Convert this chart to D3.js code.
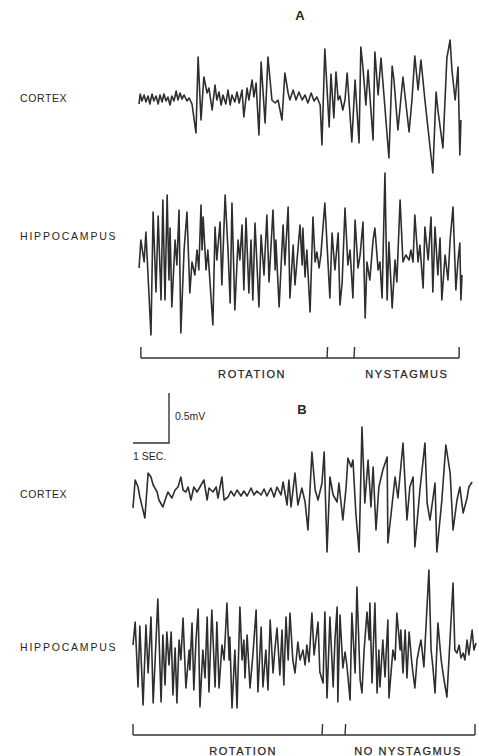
<!DOCTYPE html>
<html>
<head>
<meta charset="utf-8">
<script src="https://cdn.jsdelivr.net/npm/d3@7"></script>
<style>
  body { margin: 0; background: #fff; }
  text { font-family: "Liberation Sans", Arial, sans-serif; fill: #262626; }
</style>
</head>
<body>
<script>
// traces: [time (s), potential (mV)]
var cortexA = [[0.03,-0.06],[0.06,0.04],[0.11,-0.03],[0.17,0.03],[0.22,-0.04],[0.28,0.02],[0.33,-0.06],[0.39,0.04],[0.44,-0.03],[0.50,0.02],[0.56,-0.06],[0.61,0.03],[0.67,-0.04],[0.72,0.04],[0.78,-0.03],[0.83,0.01],[0.89,-0.07],[0.94,0.02],[1.00,-0.03],[1.06,0.07],[1.11,-0.02],[1.17,0.05],[1.22,-0.01],[1.28,0.03],[1.36,-0.03],[1.42,0.00],[1.50,-0.06],[1.61,-0.35],[1.67,0.41],[1.75,-0.22],[1.83,0.21],[1.92,0.05],[1.97,0.10],[2.06,-0.12],[2.14,0.13],[2.19,-0.02],[2.25,0.06],[2.31,-0.07],[2.36,0.03],[2.44,-0.06],[2.50,0.08],[2.56,-0.07],[2.61,0.03],[2.69,-0.04],[2.75,0.06],[2.81,-0.05],[2.89,0.08],[2.94,-0.19],[3.03,0.10],[3.08,-0.02],[3.17,0.18],[3.22,0.01],[3.28,0.15],[3.36,-0.37],[3.42,0.36],[3.53,-0.25],[3.61,0.41],[3.72,-0.02],[3.81,-0.05],[3.89,-0.02],[4.00,-0.22],[4.08,0.25],[4.17,0.05],[4.22,-0.02],[4.31,0.08],[4.39,-0.02],[4.47,0.06],[4.56,-0.02],[4.64,0.03],[4.72,-0.05],[4.81,0.05],[4.89,-0.03],[4.97,0.01],[5.06,-0.07],[5.11,-0.47],[5.19,0.49],[5.31,-0.29],[5.36,0.24],[5.44,-0.20],[5.50,0.26],[5.56,-0.02],[5.61,0.02],[5.69,-0.12],[5.75,-0.02],[5.81,0.25],[5.94,-0.44],[6.03,0.18],[6.14,-0.45],[6.19,0.51],[6.25,0.30],[6.33,-0.07],[6.39,0.28],[6.53,-0.42],[6.58,0.46],[6.67,0.03],[6.75,0.40],[6.97,-0.60],[7.06,0.32],[7.11,0.18],[7.22,-0.32],[7.36,0.21],[7.53,-0.34],[7.61,-0.02],[7.69,0.42],[7.78,0.08],[7.86,0.38],[7.97,-0.02],[8.19,-0.75],[8.28,0.06],[8.33,-0.12],[8.47,-0.50],[8.58,0.40],[8.67,0.58],[8.72,0.28],[8.81,-0.02],[8.89,0.31],[8.94,-0.57],[8.97,-0.22]];

var hippoA = [[0.03,-0.11],[0.08,0.17],[0.17,-0.05],[0.22,0.25],[0.36,-0.78],[0.42,0.45],[0.50,-0.35],[0.56,0.41],[0.64,-0.43],[0.69,0.57],[0.75,-0.43],[0.81,0.62],[0.86,-0.23],[0.89,0.29],[0.94,-0.50],[1.03,0.17],[1.08,-0.08],[1.14,0.47],[1.19,-0.76],[1.28,0.07],[1.36,0.45],[1.44,-0.36],[1.50,-0.05],[1.58,-0.18],[1.64,0.07],[1.69,-0.13],[1.75,0.52],[1.78,0.07],[1.81,0.40],[1.89,-0.13],[1.94,0.07],[2.08,-0.68],[2.14,0.30],[2.19,-0.03],[2.28,0.35],[2.33,-0.28],[2.42,0.62],[2.50,0.07],[2.56,-0.46],[2.61,0.54],[2.69,-0.53],[2.78,0.17],[2.83,-0.03],[2.89,0.32],[2.94,-0.33],[3.00,0.39],[3.08,-0.36],[3.14,0.17],[3.19,-0.43],[3.25,0.34],[3.36,-0.50],[3.42,0.22],[3.50,-0.18],[3.58,0.42],[3.64,-0.25],[3.75,0.47],[3.81,-0.13],[3.83,0.17],[3.92,-0.50],[4.03,0.32],[4.08,-0.08],[4.17,0.50],[4.22,-0.41],[4.31,0.12],[4.36,-0.28],[4.50,0.32],[4.56,-0.08],[4.58,0.29],[4.64,-0.20],[4.69,0.07],[4.78,-0.55],[4.86,0.40],[4.92,-0.05],[4.97,0.05],[5.03,-0.11],[5.08,0.02],[5.19,0.54],[5.33,-0.41],[5.39,0.24],[5.47,-0.13],[5.56,0.24],[5.61,-0.48],[5.67,-0.26],[5.75,0.49],[5.83,-0.08],[5.89,0.07],[5.97,-0.41],[6.03,0.37],[6.11,-0.11],[6.17,0.02],[6.25,0.35],[6.31,-0.61],[6.36,-0.05],[6.44,-0.23],[6.53,0.17],[6.58,0.29],[6.67,-0.13],[6.72,-0.05],[6.78,-0.41],[6.86,0.84],[6.92,-0.43],[6.97,0.15],[7.06,-0.51],[7.14,-0.03],[7.19,-0.25],[7.28,0.57],[7.36,-0.05],[7.44,0.02],[7.53,-0.03],[7.58,0.07],[7.64,-0.05],[7.69,0.42],[7.78,-0.05],[7.83,0.12],[7.92,-0.31],[7.97,0.30],[8.06,-0.03],[8.14,0.40],[8.19,-0.35],[8.25,0.30],[8.33,-0.18],[8.39,0.19],[8.44,-0.43],[8.53,0.02],[8.61,-0.23],[8.67,0.17],[8.75,0.50],[8.83,-0.33],[8.89,-0.03],[8.94,0.14],[8.97,-0.43],[9.00,-0.18]];

var cortexB = [[0.00,-0.16],[0.06,0.12],[0.14,0.05],[0.19,-0.05],[0.33,-0.26],[0.42,0.19],[0.50,0.15],[0.56,0.07],[0.67,0.00],[0.72,-0.08],[0.83,-0.15],[0.92,-0.05],[0.97,0.00],[1.08,-0.06],[1.17,0.02],[1.25,0.05],[1.33,0.15],[1.39,0.02],[1.47,0.00],[1.53,0.05],[1.61,-0.08],[1.69,0.05],[1.78,0.00],[1.89,0.07],[1.97,0.12],[2.06,-0.08],[2.11,0.04],[2.22,0.00],[2.31,0.05],[2.36,-0.06],[2.47,0.15],[2.53,-0.08],[2.64,-0.05],[2.72,0.01],[2.81,-0.04],[2.89,0.02],[3.00,-0.04],[3.08,0.01],[3.17,-0.04],[3.28,0.04],[3.36,-0.03],[3.44,0.01],[3.56,-0.03],[3.64,0.03],[3.72,-0.04],[3.83,0.04],[3.92,-0.05],[4.00,0.05],[4.11,-0.03],[4.17,0.10],[4.28,-0.13],[4.33,0.12],[4.39,-0.15],[4.50,0.19],[4.58,-0.13],[4.69,0.04],[4.78,-0.10],[4.86,-0.38],[4.97,0.40],[5.06,0.02],[5.14,-0.08],[5.25,0.09],[5.31,0.40],[5.39,-0.60],[5.47,0.15],[5.56,-0.03],[5.67,-0.10],[5.72,0.09],[5.83,-0.28],[5.92,0.05],[5.97,0.34],[6.06,0.25],[6.11,0.32],[6.19,-0.21],[6.28,-0.60],[6.36,0.65],[6.44,-0.11],[6.53,0.32],[6.61,-0.15],[6.67,0.25],[6.75,-0.38],[6.83,0.05],[6.94,0.22],[7.06,0.35],[7.08,-0.51],[7.19,-0.15],[7.28,0.15],[7.36,-0.06],[7.50,0.49],[7.61,-0.28],[7.69,0.05],[7.78,0.15],[7.83,-0.55],[7.97,0.02],[8.11,0.49],[8.17,-0.11],[8.25,-0.28],[8.39,0.09],[8.44,-0.60],[8.58,-0.08],[8.69,0.47],[8.81,0.19],[8.89,-0.38],[9.00,-0.08],[9.08,0.05],[9.17,-0.21],[9.28,-0.06],[9.33,0.05],[9.42,0.10]];

var hippoB = [[0.00,0.05],[0.06,0.28],[0.14,-0.37],[0.19,0.24],[0.28,-0.55],[0.36,0.25],[0.42,-0.23],[0.50,0.33],[0.56,-0.53],[0.64,0.10],[0.69,0.51],[0.78,-0.52],[0.83,0.15],[0.89,-0.35],[0.94,0.18],[1.00,-0.15],[1.06,0.18],[1.11,-0.45],[1.17,0.02],[1.22,-0.53],[1.28,0.10],[1.33,-0.10],[1.39,0.32],[1.47,-0.38],[1.56,0.00],[1.58,-0.20],[1.64,0.27],[1.69,-0.40],[1.75,0.10],[1.81,0.41],[1.86,-0.57],[1.94,0.00],[2.00,-0.28],[2.06,0.33],[2.11,-0.42],[2.19,0.40],[2.28,-0.37],[2.33,0.28],[2.39,-0.38],[2.47,0.05],[2.53,-0.10],[2.61,0.47],[2.67,-0.10],[2.69,0.13],[2.75,-0.58],[2.83,0.00],[2.89,-0.58],[2.97,0.43],[3.03,-0.10],[3.08,0.10],[3.11,-0.28],[3.17,0.15],[3.25,-0.38],[3.33,-0.05],[3.42,0.40],[3.47,-0.42],[3.56,0.23],[3.61,-0.37],[3.69,0.00],[3.75,-0.40],[3.81,0.30],[3.89,-0.23],[3.94,0.00],[4.00,0.22],[4.08,-0.25],[4.14,0.20],[4.19,-0.35],[4.25,0.33],[4.31,-0.10],[4.36,0.37],[4.44,-0.10],[4.50,-0.23],[4.58,0.08],[4.64,-0.10],[4.72,0.00],[4.78,-0.15],[4.83,0.05],[4.89,-0.12],[4.97,0.37],[5.03,-0.05],[5.08,0.10],[5.14,0.28],[5.19,-0.22],[5.28,-0.33],[5.33,0.38],[5.39,-0.48],[5.47,0.33],[5.56,-0.37],[5.61,0.10],[5.67,0.43],[5.69,-0.52],[5.75,0.35],[5.83,-0.18],[5.89,-0.02],[5.94,-0.15],[6.03,-0.50],[6.08,0.37],[6.17,-0.23],[6.22,0.63],[6.31,-0.30],[6.36,-0.43],[6.42,0.00],[6.50,0.38],[6.56,0.10],[6.58,0.47],[6.64,-0.33],[6.72,0.47],[6.78,-0.43],[6.83,0.00],[6.86,-0.37],[6.94,0.10],[7.00,-0.27],[7.08,0.30],[7.11,-0.48],[7.22,0.00],[7.28,-0.10],[7.33,0.37],[7.42,0.00],[7.44,0.20],[7.50,-0.23],[7.56,0.20],[7.61,-0.28],[7.67,0.18],[7.75,-0.15],[7.83,-0.38],[7.89,-0.10],[7.94,0.00],[8.00,0.10],[8.08,-0.17],[8.22,0.80],[8.28,0.00],[8.33,-0.17],[8.39,-0.43],[8.47,0.27],[8.56,-0.10],[8.64,-0.30],[8.72,-0.47],[8.89,0.67],[8.94,0.00],[9.00,-0.03],[9.06,0.05],[9.11,-0.08],[9.17,-0.03],[9.22,-0.10],[9.28,0.10],[9.33,-0.05],[9.42,0.20],[9.47,0.00],[9.53,0.07]];

// phase markers (s) and their labels
var phaseTicksA = [0.08, 5.25, 6.0, 8.92];
var phaseLabelsA = ['ROTATION', 'NYSTAGMUS'];
var phaseLabelTimesA = [3.17, 7.47];
var phaseTicksB = [0, 5.25, 5.89, 9.5];
var phaseLabelsB = ['ROTATION', 'NO NYSTAGMUS'];
var phaseLabelTimesB = [3.06, 7.64];

var channelNames = ['CORTEX', 'HIPPOCAMPUS'];
var scaleBarMV = 0.5, scaleBarSec = 1;

var W = 479, H = 756;
var svg = d3.select('body').append('svg')
    .attr('width', W)
    .attr('height', H);

var pxPerSec = 36, pxPerMV = 100;
var xA = d3.scaleLinear().domain([0, 9]).range([138, 138 + 9 * pxPerSec]);
var xB = d3.scaleLinear().domain([0, 9.5]).range([133, 133 + 9.5 * pxPerSec]);

function yFor(base) {
    return d3.scaleLinear().domain([-1, 1]).range([base + pxPerMV, base - pxPerMV]);
}

function drawTrace(data, x, y) {
    var line = d3.line()
        .x(function(d) { return x(d[0]); })
        .y(function(d) { return y(d[1]); });
    svg.append('path')
        .datum(data)
        .attr('d', line)
        .attr('fill', 'none')
        .attr('stroke', '#2e2e2e')
        .attr('stroke-width', 1.6)
        .attr('stroke-linejoin', 'round');
}

// letter spacing differs a little between the two names in the print
function channelLabel(name, yPos, spacing) {
    svg.append('text')
        .attr('x', 20)
        .attr('y', yPos)
        .attr('font-size', 10.5)
        .attr('letter-spacing', spacing)
        .attr('dominant-baseline', 'middle')
        .text(name);
}

function drawPhases(ticks, labels, labelTimes, x, yLine, yText) {
    var g = svg.append('g')
        .attr('stroke', '#333')
        .attr('stroke-width', 1.4)
        .attr('fill', 'none');
    g.append('line')
        .attr('x1', x(ticks[0])).attr('x2', x(ticks[ticks.length - 1]))
        .attr('y1', yLine).attr('y2', yLine);
    g.selectAll('line.tick')
        .data(ticks)
        .enter().append('line')
        .attr('class', 'tick')
        .attr('x1', function(d) { return x(d); })
        .attr('x2', function(d, i) { return x(d) + (i == 1 || i == 2 ? 0.6 : 0); })
        .attr('y1', yLine)
        .attr('y2', yLine - 11);
    svg.selectAll(null)
        .data(labels)
        .enter().append('text')
        .attr('x', function(d, i) { return x(labelTimes[i]); })
        .attr('y', yText)
        .attr('text-anchor', 'middle')
        .attr('font-size', 11)
        .attr('letter-spacing', 1.6)
        .attr('stroke', '#262626')
        .attr('stroke-width', 0.25)
        .text(function(d) { return d; });
}

// panel A
svg.append('text').attr('x', 300).attr('y', 20)
    .attr('text-anchor', 'middle').attr('font-size', 13).attr('font-weight', 'bold')
    .text('A');
channelLabel(channelNames[0], 99, 0.6);
channelLabel(channelNames[1], 237, 1.8);
drawTrace(cortexA, xA, yFor(98));
drawTrace(hippoA, xA, yFor(257));
drawPhases(phaseTicksA, phaseLabelsA, phaseLabelTimesA, xA, 358, 378);

// calibration bar
var barX = d3.scaleLinear().domain([0, scaleBarSec]).range([133, 133 + pxPerSec]);
var barY = d3.scaleLinear().domain([0, scaleBarMV]).range([443, 443 - scaleBarMV * pxPerMV]);
svg.append('path')
    .attr('d', 'M' + barX(0) + ',' + barY(0) + 'H' + barX(scaleBarSec) + 'V' + barY(scaleBarMV))
    .attr('fill', 'none')
    .attr('stroke', '#333')
    .attr('stroke-width', 1.4);
svg.append('text').attr('x', barX(scaleBarSec) + 6).attr('y', 420)
    .attr('font-size', 10.5).text(scaleBarMV + 'mV');
svg.append('text').attr('x', 133).attr('y', 460)
    .attr('font-size', 10.5).text(scaleBarSec + ' SEC.');

// panel B
svg.append('text').attr('x', 302).attr('y', 414)
    .attr('text-anchor', 'middle').attr('font-size', 13).attr('font-weight', 'bold')
    .text('B');
channelLabel(channelNames[0], 495, 0.6);
channelLabel(channelNames[1], 648, 1.8);
drawTrace(cortexB, xB, yFor(492));
drawTrace(hippoB, xB, yFor(650));
drawPhases(phaseTicksB, phaseLabelsB, phaseLabelTimesB, xB, 735, 755);
</script>
</body>
</html>
